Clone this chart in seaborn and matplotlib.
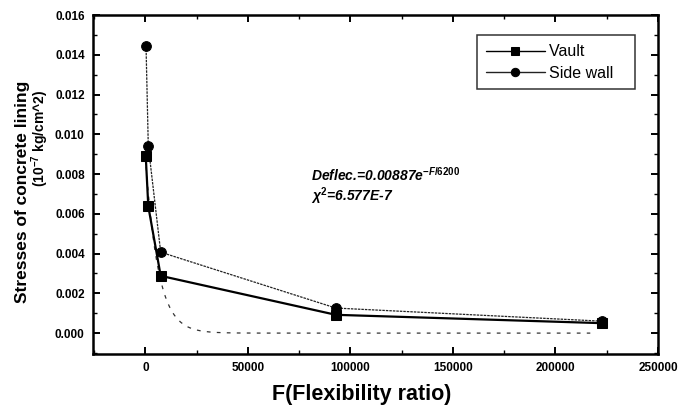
import numpy as np
import pandas as pd
import matplotlib
matplotlib.use("Agg")
import matplotlib.pyplot as plt
from matplotlib.ticker import MultipleLocator, FixedLocator
import seaborn as sns

# Flexibility ratio F and lining stresses for the two measurement locations
vault_F = [200, 1450, 7500, 92900, 222700]
vault_stress = [0.00892, 0.00638, 0.00288, 0.00092, 0.00050]
side_F = [350, 1450, 7500, 92900, 222700]
side_stress = [0.01445, 0.00941, 0.00407, 0.00126, 0.00060]

# Exponential fit parameters as printed on the chart
fit_amp = 0.00887
fit_decay = 6200
fit_F_end = 217000

x_ticks = [0, 50000, 100000, 150000, 200000, 250000]
y_ticks = [0.000, 0.002, 0.004, 0.006, 0.008, 0.010, 0.012, 0.014, 0.016]

sns.set_theme(style="ticks")
plt.rcParams["font.family"] = ["Liberation Sans", "DejaVu Sans"]
plt.rcParams["text.color"] = "black"
plt.rcParams["xtick.color"] = "black"
plt.rcParams["ytick.color"] = "black"
plt.rcParams["axes.labelcolor"] = "black"
plt.rcParams["mathtext.fontset"] = "custom"
plt.rcParams["mathtext.it"] = "Liberation Sans:italic:bold"
plt.rcParams["mathtext.rm"] = "Liberation Sans:bold"

fig = plt.figure(figsize=(6.8, 4.08), dpi=100)
ax = fig.add_axes([0.1368, 0.1324, 0.8308, 0.8308])

vault = pd.DataFrame({"F": vault_F, "stress": vault_stress})
side = pd.DataFrame({"F": side_F, "stress": side_stress})

fit_F = np.linspace(0, fit_F_end, 400)
fit = pd.DataFrame({"F": fit_F, "stress": fit_amp * np.exp(-fit_F / fit_decay)})

sns.lineplot(data=fit, x="F", y="stress", ax=ax, color="#333333",
             linewidth=0.9, linestyle=(0, (3, 5)), label="_fit")
sns.lineplot(data=side, x="F", y="stress", ax=ax, color="#222222",
             linewidth=0.9, linestyle=(0, (2, 0.8)), marker="o",
             markersize=7, markeredgecolor="black", markerfacecolor="black",
             label="Side wall")
sns.lineplot(data=vault, x="F", y="stress", ax=ax, color="black",
             linewidth=1.6, marker="s", markersize=6.5,
             markeredgecolor="black", markerfacecolor="black", label="Vault")

ax.set_xlim(-25500, 250000)
ax.set_ylim(-0.00105, 0.016)
ax.xaxis.set_major_locator(FixedLocator(x_ticks))
ax.xaxis.set_minor_locator(MultipleLocator(25000))
ax.yaxis.set_major_locator(FixedLocator(y_ticks))
ax.yaxis.set_minor_locator(MultipleLocator(0.001))
ax.set_xticklabels([str(v) for v in x_ticks])
ax.set_yticklabels([f"{v:.3f}" for v in y_ticks])

for s in ax.spines.values():
    s.set_visible(True)
    s.set_linewidth(1.8)
    s.set_color("black")

ax.tick_params(which="both", direction="in", top=True, right=True,
               color="black", labelcolor="black")
ax.tick_params(which="major", length=5, width=1.4, labelsize=8.5, pad=6)
ax.tick_params(which="minor", length=3, width=1.0)
for lab in ax.get_xticklabels() + ax.get_yticklabels():
    lab.set_fontweight("bold")

ax.set_xlabel("")
ax.set_ylabel("")
fig.text(0.532, 0.032, "F(Flexibility ratio)", ha="center", va="center",
         fontsize=15.5, fontweight="bold")
fig.text(0.033, 0.531, "Stresses of concrete lining", rotation=90,
         ha="center", va="center", fontsize=12.5, fontweight="bold")
fig.text(0.059, 0.662, r"(10$^{-7}$ kg/cm^2)", rotation=90,
         ha="center", va="center", fontsize=10, fontweight="bold")

ax.text(0.386, 0.528, r"Deflec.=0.00887e$^{-F/6200}$", transform=ax.transAxes,
        fontsize=10, style="italic", fontweight="bold", ha="left", va="center")
ax.text(0.386, 0.466, r"$\chi^2$=6.577E-7", transform=ax.transAxes,
        fontsize=10, style="italic", fontweight="bold", ha="left", va="center")

handles, labels = ax.get_legend_handles_labels()
order = [labels.index("Vault"), labels.index("Side wall")]
leg = ax.legend([handles[i] for i in order], [labels[i] for i in order],
                loc="upper right", bbox_to_anchor=(0.96, 0.94),
                fontsize=11.5, frameon=True, fancybox=False,
                edgecolor="black", handlelength=3.7, borderpad=0.55,
                labelspacing=0.4, handletextpad=0.25, borderaxespad=0.0)
leg.get_frame().set_linewidth(1.1)
for t in leg.get_texts():
    t.set_text(t.get_text() + "   ")
for h in leg.legend_handles:
    h.set_linestyle("-")
    h.set_linewidth(1.0)
    h.set_markersize(6)

fig.savefig("out.png", dpi=100, facecolor="white")
